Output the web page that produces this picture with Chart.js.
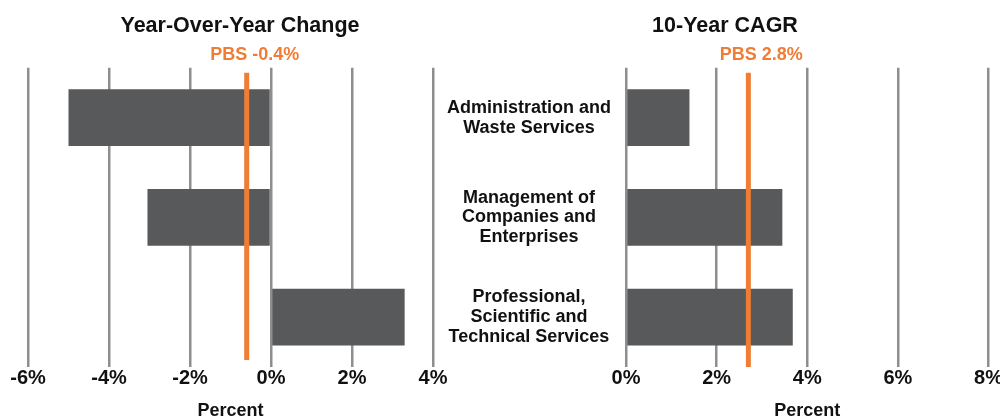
<!DOCTYPE html>
<html>
<head>
<meta charset="utf-8">
<script src="https://cdn.jsdelivr.net/npm/chart.js@4/dist/chart.umd.min.js"></script>
<style>
  body { margin: 0; width: 1000px; height: 420px; overflow: hidden; background: #fff; position: relative; }
  .panel { position: absolute; top: 0; height: 420px; }
</style>
</head>
<body>
<div class="panel" style="left:0;width:460px"><canvas id="yoyChart" width="460" height="420"></canvas></div>
<div class="panel" style="left:446px;width:558px"><canvas id="cagrChart" width="558" height="420"></canvas></div>
<script>
// industries, top to bottom
const categories = [
  ["Administration and", "Waste Services"],
  ["Management of", "Companies and", "Enterprises"],
  ["Professional,", "Scientific and", "Technical Services"]
];
const yoyChange = [-5.0, -3.05, 3.3];   // percent
const cagr10 = [1.4, 3.45, 3.68];       // percent
// PBS benchmark: label text and where the orange line sits
const pbsLabels = ["PBS -0.4%", "PBS 2.8%"];
const pbsMarks = [-0.6, 2.7];
const yoyTicks = [-6, 4];
const cagrTicks = [0, 8];

const FONT = "'Liberation Sans', Arial, sans-serif";
const BAR = "#58595b";
const ORANGE = "#ef7d36";
const GRID = "#8e8e8e";

const pbsLine = {
  id: "pbsLine",
  afterDatasetsDraw(chart, args, opts) {
    const { ctx, chartArea, scales } = chart;
    const px = scales.x.getPixelForValue(opts.value);
    ctx.save();
    ctx.strokeStyle = ORANGE;
    ctx.lineWidth = 5;
    ctx.beginPath();
    ctx.moveTo(px, chartArea.top + 5);
    ctx.lineTo(px, chartArea.bottom - opts.gapBottom);
    ctx.stroke();
    ctx.fillStyle = ORANGE;
    ctx.font = "bold 18px " + FONT;
    ctx.textAlign = "center";
    ctx.textBaseline = "alphabetic";
    ctx.fillText(opts.label, px + opts.labelShift, chartArea.top - 8);
    ctx.restore();
  }
};

function makeChart(id, title, values, range, pbs, showCats) {
  const scales = {
    x: {
      min: range[0],
      max: range[1],
      ticks: {
        stepSize: 2,
        padding: 1,
        color: "#111",
        font: { family: FONT, size: 20, weight: "bold", lineHeight: 1.0 },
        callback: v => v + "%"
      },
      grid: { color: GRID, lineWidth: 2.5, drawTicks: false },
      border: { display: false },
      title: {
        display: true,
        text: "Percent",
        color: "#111",
        font: { family: FONT, size: 18, weight: "bold", lineHeight: 1.0 },
        padding: { top: 13, bottom: 0 }
      }
    },
    y: {
      display: showCats,
      grid: { display: false, drawTicks: false },
      border: { display: false },
      ticks: {
        crossAlign: "center",
        padding: 15,
        color: "#111",
        font: { family: FONT, size: 18, weight: "bold", lineHeight: 1.1 }
      }
    }
  };
  if (showCats) {
    scales.y.afterFit = s => { s.width = 180; };
  } else {
    // empty spacer on the right so the title centres like the original
    scales.y2 = {
      type: "linear",
      position: "right",
      display: true,
      grid: { display: false },
      border: { display: false },
      ticks: { display: false },
      afterFit(s) { s.width = 19; }
    };
  }
  return new Chart(document.getElementById(id), {
    type: "bar",
    data: {
      labels: categories,
      datasets: [{
        data: values,
        backgroundColor: BAR,
        barPercentage: 0.57,
        categoryPercentage: 1.0
      }]
    },
    options: {
      indexAxis: "y",
      responsive: false,
      animation: false,
      layout: { padding: showCats ? 0 : { left: 28, right: 8, top: 0, bottom: 0 } },
      scales: scales,
      plugins: {
        legend: { display: false },
        tooltip: { enabled: false },
        title: {
          display: true,
          text: title,
          color: "#111",
          font: { family: FONT, size: 21.5, weight: "bold", lineHeight: 1.2 },
          padding: { top: 13, bottom: 29 }
        },
        pbsLine: pbs
      }
    },
    plugins: [pbsLine]
  });
}

makeChart("yoyChart", "Year-Over-Year Change", yoyChange, yoyTicks,
  { value: pbsMarks[0], label: pbsLabels[0], labelShift: 8, gapBottom: 7 }, false);
makeChart("cagrChart", "10-Year CAGR", cagr10, cagrTicks,
  { value: pbsMarks[1], label: pbsLabels[1], labelShift: 13, gapBottom: 0 }, true);
</script>
</body>
</html>
